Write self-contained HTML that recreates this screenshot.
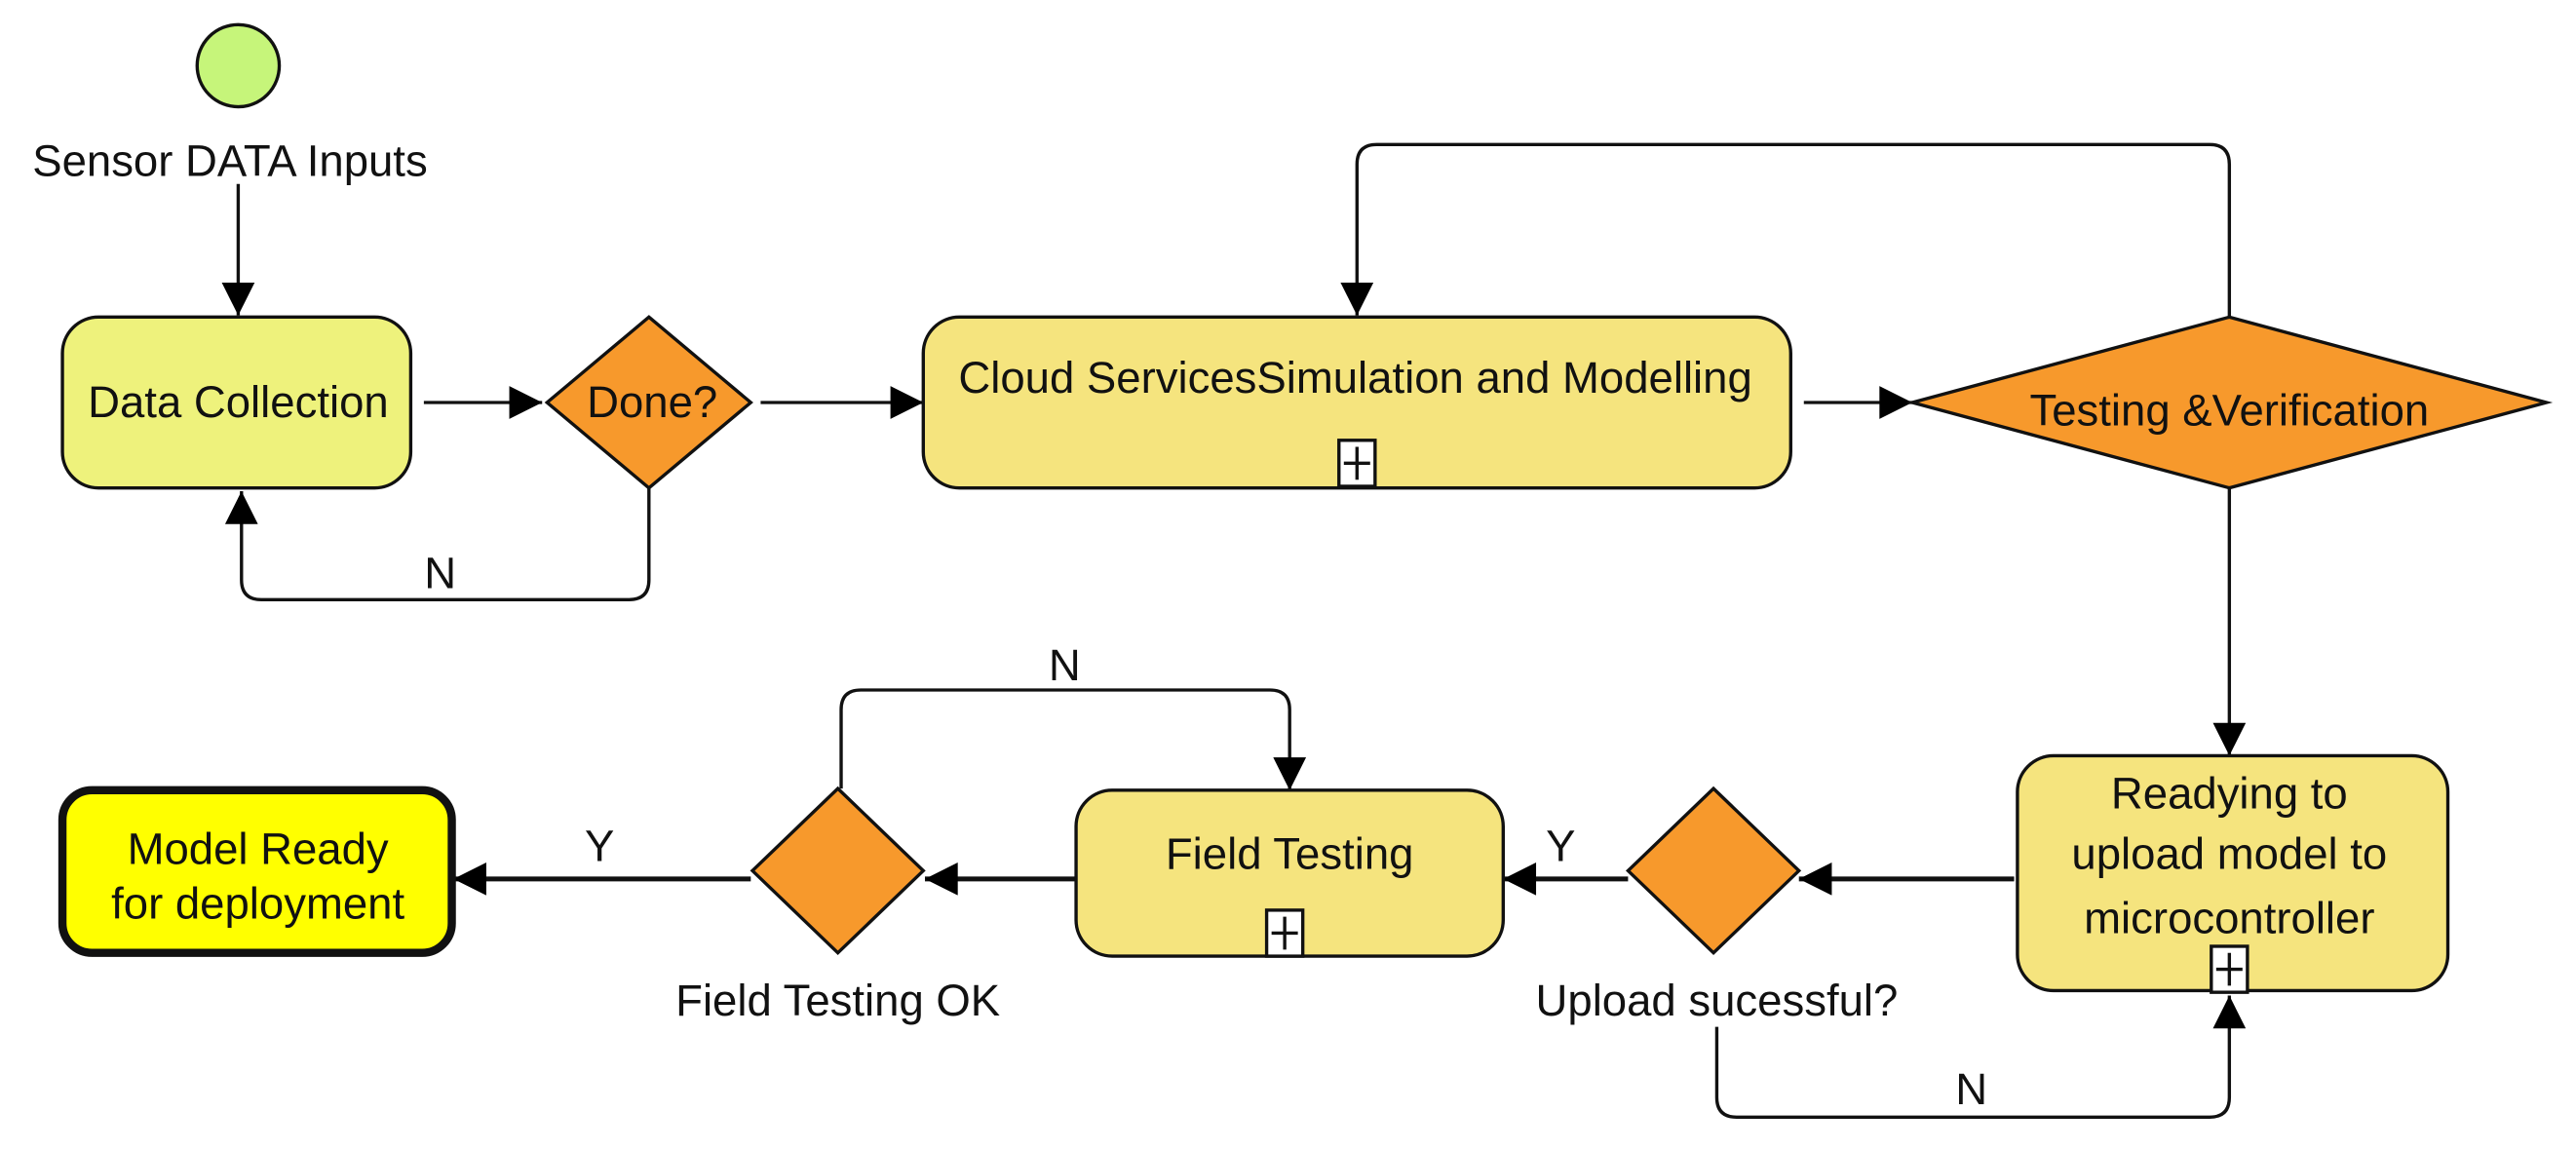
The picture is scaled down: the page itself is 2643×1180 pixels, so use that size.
<!DOCTYPE html>
<html><head><style>html,body{margin:0;padding:0;background:#fff;}svg{display:block}</style></head>
<body>
<svg width="2643" height="1180" viewBox="0 0 1568 700" preserveAspectRatio="none" xmlns="http://www.w3.org/2000/svg" font-family="Liberation Sans, sans-serif" font-size="27" fill="#111">
<defs>
<marker id="b" viewBox="0 0 10 10" refX="10" refY="5" markerWidth="22" markerHeight="20" markerUnits="userSpaceOnUse" orient="auto"><path d="M0,0 L10,5 L0,10 z" fill="#000"/></marker>
</defs>
<g stroke="#111" stroke-width="2" fill="none">
<line x1="145" y1="112" x2="145" y2="192" marker-end="url(#b)"/>
<line x1="258" y1="245" x2="330" y2="245" marker-end="url(#b)"/>
<path d="M395,297 V353 Q395,365 383,365 H159 Q147,365 147,353 V299" marker-end="url(#b)"/>
<line x1="463" y1="245" x2="562" y2="245" marker-end="url(#b)"/>
<line x1="1098" y1="245" x2="1164" y2="245" marker-end="url(#b)"/>
<path d="M1357,193 V100 Q1357,88 1345,88 H838 Q826,88 826,100 V192" marker-end="url(#b)"/>
<line x1="1357" y1="297" x2="1357" y2="460" marker-end="url(#b)"/>
<line x1="1226" y1="535" x2="1095" y2="535" stroke-width="3" marker-end="url(#b)"/>
<path d="M1045,625 V668 Q1045,680 1057,680 H1345 Q1357,680 1357,668 V606" marker-end="url(#b)"/>
<line x1="991" y1="535" x2="915" y2="535" stroke-width="3" marker-end="url(#b)"/>
<line x1="655" y1="535" x2="563" y2="535" stroke-width="3" marker-end="url(#b)"/>
<path d="M512,480 V432 Q512,420 524,420 H773 Q785,420 785,432 V481" marker-end="url(#b)"/>
<line x1="457" y1="535" x2="276" y2="535" stroke-width="3" marker-end="url(#b)"/>
</g>
<g stroke="#111" stroke-width="2">
<circle cx="145" cy="40" r="25" fill="#c6f57a"/>
<rect x="38" y="193" width="212" height="104" rx="22" fill="#eef27c"/>
<polygon points="395,193 457,245 395,297 333,245" fill="#f7992c"/>
<rect x="562" y="193" width="528" height="104" rx="22" fill="#f5e47e"/>
<polygon points="1357,193 1550,245 1357,297 1164,245" fill="#f7992c"/>
<rect x="1228" y="460" width="262" height="143" rx="22" fill="#f5e47e"/>
<polygon points="1043,480 1095,530 1043,580 991,530" fill="#f7992c"/>
<rect x="655" y="481" width="260" height="101" rx="22" fill="#f5e47e"/>
<polygon points="510,480 562,530 510,580 458,530" fill="#f7992c"/>
<rect x="38" y="481" width="237" height="99" rx="18" fill="#ffff00" stroke-width="5"/>
<g fill="#fff">
<rect x="815" y="268" width="22" height="28"/><rect x="771" y="554" width="22" height="28"/><rect x="1346" y="576" width="22" height="28"/>
</g>
<path d="M818,282 H834 M826,272 V292 M774,568 H790 M782,558 V578 M1349,590 H1365 M1357,580 V600" fill="none"/>
</g>
<g text-anchor="middle">
<text x="140" y="107">Sensor DATA Inputs</text>
<text x="145" y="254">Data Collection</text>
<text x="397" y="254">Done?</text>
<text x="268" y="358">N</text>
<text x="825" y="239">Cloud ServicesSimulation and Modelling</text>
<text x="1357" y="259">Testing &amp;Verification</text>
<text x="1357" y="492">Readying to</text>
<text x="1357" y="529">upload model to</text>
<text x="1357" y="568">microcontroller</text>
<text x="1045" y="618">Upload sucessful?</text>
<text x="1200" y="672">N</text>
<text x="950" y="524">Y</text>
<text x="785" y="529">Field Testing</text>
<text x="510" y="618">Field Testing OK</text>
<text x="648" y="414">N</text>
<text x="365" y="524">Y</text>
<text x="157" y="526">Model Ready</text>
<text x="157" y="559">for deployment</text>
</g>
</svg>
</body></html>
